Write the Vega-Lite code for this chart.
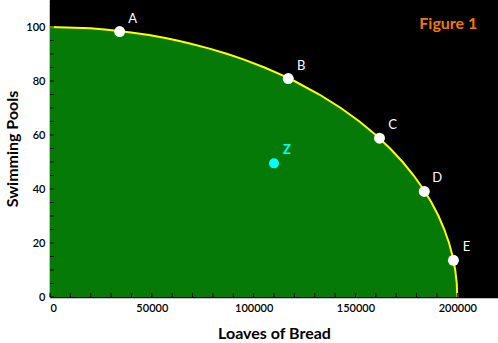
{
  "$schema": "https://vega.github.io/schema/vega-lite/v6.json",
  "width": 448,
  "height": 297,
  "autosize": {"type": "none"},
  "padding": {"left": 50, "top": 0, "right": 0, "bottom": 46},
  "background": "white",
  "config": {
    "view": {"fill": "black", "stroke": null},
    "axis": {"labelFont": "Lato", "titleFont": "Lato", "labelColor": "black", "titleColor": "black", "grid": false, "ticks": false, "domainColor": "black", "domainWidth": 1.5, "labelBound": false, "zindex": 1}
  },
  "datasets": {
    "curve": [
      {"x": 0, "y": 100}, {"x": 19975, "y": 99.5}, {"x": 28213, "y": 99}, {"x": 39799, "y": 98},
      {"x": 48621, "y": 97}, {"x": 56000, "y": 96}, {"x": 62450, "y": 95}, {"x": 68235, "y": 94},
      {"x": 78384, "y": 92}, {"x": 87178, "y": 90}, {"x": 94995, "y": 88}, {"x": 105357, "y": 85},
      {"x": 114473, "y": 82}, {"x": 120000, "y": 80}, {"x": 132288, "y": 75}, {"x": 142829, "y": 70},
      {"x": 151987, "y": 65}, {"x": 160000, "y": 60}, {"x": 167033, "y": 55}, {"x": 173205, "y": 50},
      {"x": 178606, "y": 45}, {"x": 183303, "y": 40}, {"x": 187350, "y": 35}, {"x": 190788, "y": 30},
      {"x": 193649, "y": 25}, {"x": 195959, "y": 20}, {"x": 197737, "y": 15}, {"x": 198997, "y": 10},
      {"x": 199750, "y": 5}, {"x": 200000, "y": 0}
    ],
    "points": [
      {"x": 34200, "y": 98.3, "label": "A"},
      {"x": 117000, "y": 80.9, "label": "B"},
      {"x": 161800, "y": 58.8, "label": "C"},
      {"x": 183800, "y": 39.1, "label": "D"},
      {"x": 198100, "y": 13.6, "label": "E"}
    ],
    "z": [{"x": 110000, "y": 49.5, "label": "Z"}],
    "fig": [{"x": 195600, "y": 101, "label": "Figure 1"}],
    "xticks": [
      {"x": 0}, {"x": 10000}, {"x": 20000}, {"x": 30000}, {"x": 40000}, {"x": 50000}, {"x": 60000},
      {"x": 70000}, {"x": 80000}, {"x": 90000}, {"x": 100000}, {"x": 110000}, {"x": 120000}, {"x": 130000},
      {"x": 140000}, {"x": 150000}, {"x": 160000}, {"x": 170000}, {"x": 180000}, {"x": 190000}, {"x": 200000}
    ],
    "yticks": [
      {"y": 0}, {"y": 5}, {"y": 10}, {"y": 15}, {"y": 20}, {"y": 25}, {"y": 30}, {"y": 35}, {"y": 40}, {"y": 45},
      {"y": 50}, {"y": 55}, {"y": 60}, {"y": 65}, {"y": 70}, {"y": 75}, {"y": 80}, {"y": 85}, {"y": 90}, {"y": 95},
      {"y": 100}, {"y": 105}
    ]
  },
  "layer": [
    {
      "data": {"name": "curve"},
      "mark": {"type": "area", "color": "#067a06", "orient": "vertical"},
      "encoding": {
        "x": {"field": "x", "type": "quantitative", "scale": {"domain": [0, 220000], "nice": false},
          "axis": {"title": "Loaves of Bread", "titleFontSize": 16, "titleFontWeight": "bold", "titlePadding": 12,
            "values": [0, 50000, 100000, 150000, 200000], "format": "d",
            "labelFontSize": 11, "labelFontWeight": 600, "labelPadding": 5}},
        "y": {"field": "y", "type": "quantitative", "scale": {"domain": [0, 110], "nice": false},
          "axis": {"title": "Swimming Pools", "titleFontSize": 16, "titleFontWeight": "bold", "titlePadding": 5,
            "values": [0, 20, 40, 60, 80, 100],
            "labelFontSize": 11, "labelFontWeight": 600, "labelPadding": 5}}
      }
    },
    {
      "data": {"name": "curve"},
      "mark": {"type": "line", "color": "#ffff00", "strokeWidth": 2},
      "encoding": {
        "x": {"field": "x", "type": "quantitative"},
        "y": {"field": "y", "type": "quantitative"}
      }
    },
    {
      "data": {"name": "xticks"},
      "mark": {"type": "rule", "color": "black", "strokeWidth": 1},
      "encoding": {
        "x": {"field": "x", "type": "quantitative"},
        "y": {"datum": 0},
        "y2": {"datum": 1.5}
      }
    },
    {
      "data": {"name": "yticks"},
      "mark": {"type": "rule", "color": "black", "strokeWidth": 1},
      "encoding": {
        "y": {"field": "y", "type": "quantitative"},
        "x": {"datum": 0},
        "x2": {"datum": 2000}
      }
    },
    {
      "data": {"name": "points"},
      "mark": {"type": "point", "filled": true, "color": "white", "opacity": 1, "size": 120},
      "encoding": {
        "x": {"field": "x", "type": "quantitative"},
        "y": {"field": "y", "type": "quantitative"}
      }
    },
    {
      "data": {"name": "points"},
      "mark": {"type": "text", "color": "white", "font": "Lato", "fontSize": 13, "dx": 13, "dy": -13},
      "encoding": {
        "x": {"field": "x", "type": "quantitative"},
        "y": {"field": "y", "type": "quantitative"},
        "text": {"field": "label"}
      }
    },
    {
      "data": {"name": "z"},
      "mark": {"type": "point", "filled": true, "color": "#00ffff", "opacity": 1, "size": 100},
      "encoding": {
        "x": {"field": "x", "type": "quantitative"},
        "y": {"field": "y", "type": "quantitative"}
      }
    },
    {
      "data": {"name": "z"},
      "mark": {"type": "text", "color": "#00ffff", "font": "Lato", "fontSize": 13, "fontWeight": "bold", "dx": 13, "dy": -13},
      "encoding": {
        "x": {"field": "x", "type": "quantitative"},
        "y": {"field": "y", "type": "quantitative"},
        "text": {"field": "label"}
      }
    },
    {
      "data": {"name": "fig"},
      "mark": {"type": "text", "color": "#f07800", "font": "Lato", "fontSize": 16, "fontWeight": "bold"},
      "encoding": {
        "x": {"field": "x", "type": "quantitative"},
        "y": {"field": "y", "type": "quantitative"},
        "text": {"field": "label"}
      }
    }
  ]
}
